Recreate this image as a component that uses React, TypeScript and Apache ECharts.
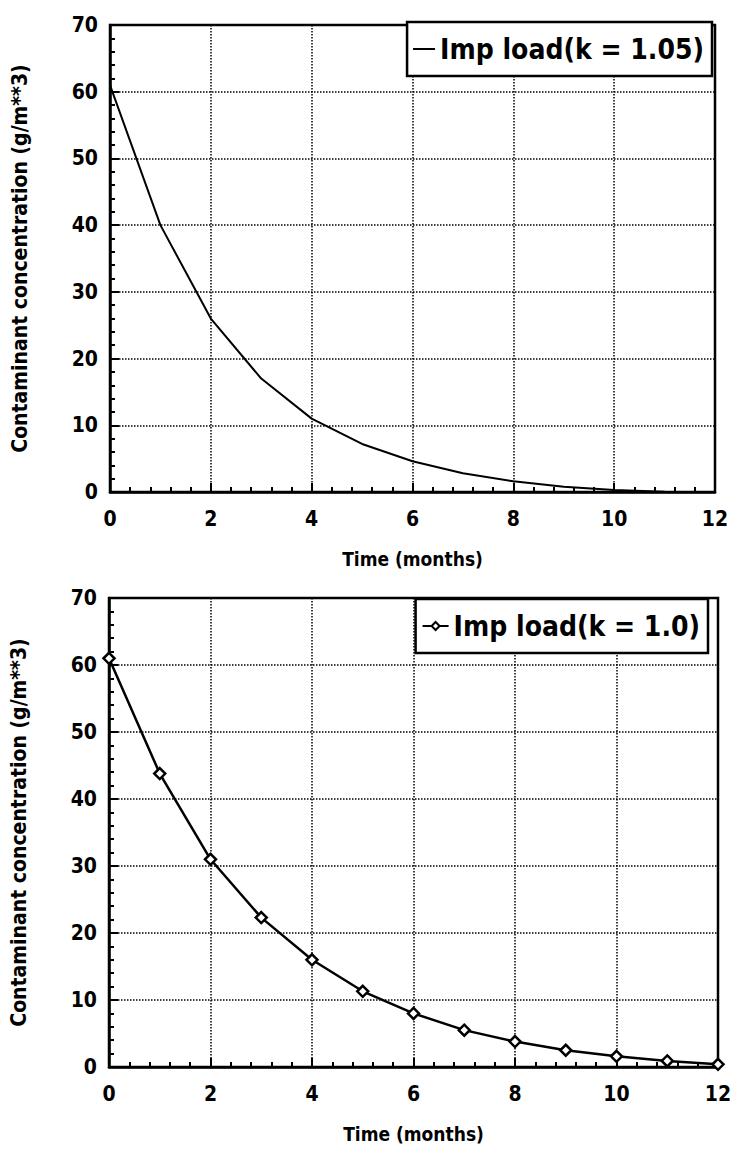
import React, { useEffect, useRef } from "react";
import * as echarts from "echarts";

const months = [0, 1, 2, 3, 4, 5, 6, 7, 8, 9, 10, 11, 12];
const concK105 = [61, 40, 26, 17, 11, 7.2, 4.6, 2.8, 1.6, 0.8, 0.3, 0.05, 0];
const concK10 = [61, 43.8, 31, 22.3, 16, 11.3, 8, 5.5, 3.8, 2.5, 1.6, 0.9, 0.4];
const xTicks = [0, 2, 4, 6, 8, 10, 12];
const yTicks = [0, 10, 20, 30, 40, 50, 60, 70];
const seriesNames = ["Imp load(k = 1.05)", "Imp load(k = 1.0)"];
const xName = "Time (months)";
const yName = "Contaminant concentration (g/m**3)";

const FONT = '"DejaVu Sans Condensed", "Liberation Sans", Arial, sans-serif';

export default function App() {
  const ref = useRef<HTMLDivElement>(null);
  useEffect(() => {
    if (!ref.current) return;
    const chart = echarts.init(ref.current, null, { renderer: "svg" });
    const grids = [
      { left: 110, right: 22, top: 25, height: 467 },
      { left: 107, right: 19, top: 598, height: 469 },
    ];
    const mkX = (i: number) => ({
      type: "value",
      gridIndex: i,
      min: xTicks[0],
      max: xTicks[xTicks.length - 1],
      interval: 2,
      name: xName,
      nameLocation: "middle",
      nameGap: 57,
      nameTextStyle: { fontFamily: FONT, fontWeight: "bold", fontSize: 19, color: "#000" },
      axisLine: { show: true, onZero: false, lineStyle: { color: "#000", width: 2.5 } },
      axisTick: { show: true, inside: true, length: 9, lineStyle: { color: "#000", width: 2 } },
      minorTick: { show: true, splitNumber: 5, length: 5, lineStyle: { color: "#000", width: 2 } },
      axisLabel: { fontFamily: FONT, fontWeight: "bold", fontSize: 21, color: "#000", margin: 16 },
      splitLine: { show: true, lineStyle: { color: "#000", type: "dotted", width: 1.5 } },
    });
    const mkY = (i: number) => ({
      type: "value",
      gridIndex: i,
      min: yTicks[0],
      max: yTicks[yTicks.length - 1],
      interval: 10,
      name: yName,
      nameLocation: "middle",
      nameRotate: 90,
      nameGap: 80,
      nameTextStyle: { fontFamily: FONT, fontWeight: "bold", fontSize: 21, color: "#000" },
      axisLine: { show: true, lineStyle: { color: "#000", width: 2.5 } },
      axisTick: { show: true, inside: true, length: 9, lineStyle: { color: "#000", width: 2 } },
      minorTick: { show: true, splitNumber: 5, length: 5, lineStyle: { color: "#000", width: 2 } },
      axisLabel: { fontFamily: FONT, fontWeight: "bold", fontSize: 21, color: "#000", margin: 12 },
      splitLine: { show: true, lineStyle: { color: "#000", type: "dotted", width: 1.5 } },
    });
    const legendBase = {
      orient: "horizontal",
      backgroundColor: "#fff",
      borderColor: "#000",
      borderWidth: 2.5,
      borderRadius: 0,
      padding: [13, 8, 13, 6],
      itemGap: 4,
      textStyle: { fontFamily: FONT, fontWeight: "bold", fontSize: 28, color: "#000" },
    };
    chart.setOption({
      animation: false,
      backgroundColor: "#fff",
      grid: grids.map((g) => ({ ...g, show: true, borderColor: "#000", borderWidth: 2.5, backgroundColor: "transparent" })),
      xAxis: [mkX(0), mkX(1)],
      yAxis: [mkY(0), mkY(1)],
      legend: [
        {
          ...legendBase,
          data: [{ name: seriesNames[0], icon: "rect" }],
          itemWidth: 22,
          itemHeight: 2,
          right: 25,
          top: 22,
        },
        {
          ...legendBase,
          data: [seriesNames[1]],
          itemWidth: 26,
          itemHeight: 10,
          right: 29,
          top: 599,
        },
      ],
      series: [
        {
          name: seriesNames[0],
          type: "line",
          xAxisIndex: 0,
          yAxisIndex: 0,
          data: months.map((m, i) => [m, concK105[i]]),
          symbol: "none",
          lineStyle: { color: "#000", width: 2 },
          itemStyle: { color: "#000" },
        },
        {
          name: seriesNames[1],
          type: "line",
          xAxisIndex: 1,
          yAxisIndex: 1,
          data: months.map((m, i) => [m, concK10[i]]),
          symbol: "diamond",
          symbolSize: 11,
          lineStyle: { color: "#000", width: 2.5 },
          itemStyle: { color: "#fff", borderColor: "#000", borderWidth: 2.5 },
        },
      ],
    });
    return () => chart.dispose();
  }, []);
  return (
    <div
      ref={ref}
      style={{ position: "absolute", left: 0, top: 0, width: 737, height: 1157, background: "#fff" }}
    />
  );
}
